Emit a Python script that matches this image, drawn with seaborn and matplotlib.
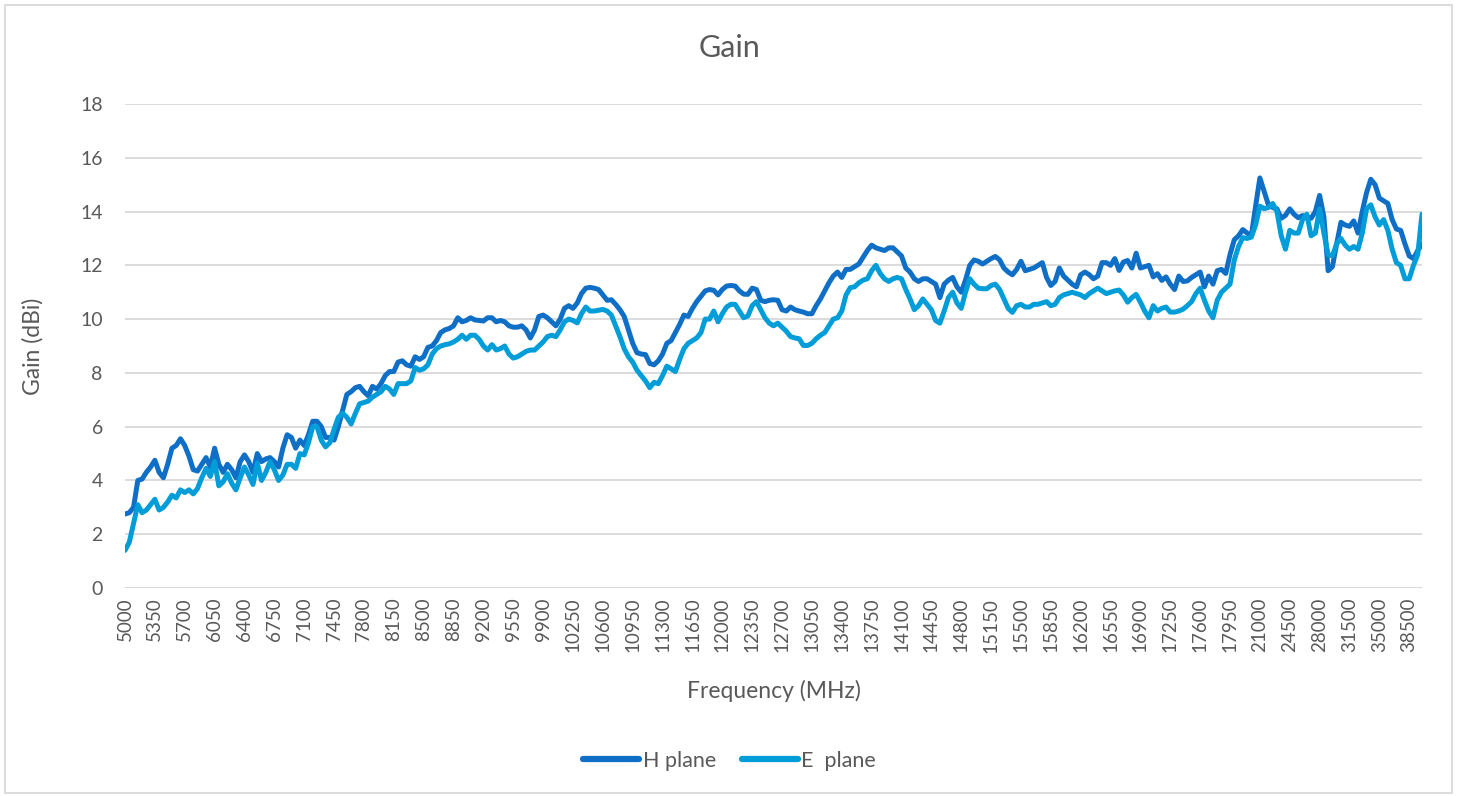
import matplotlib
matplotlib.use("Agg")
import matplotlib.pyplot as plt
import pandas as pd
import seaborn as sns
from matplotlib.patches import Rectangle

# frequency categories (MHz) - excel category axis, not evenly spaced
freqs = list(range(5000, 18000, 50)) + list(range(18000, 21000, 500)) + list(range(21000, 40001, 500))

h_plane = [
    2.75, 2.8, 3.0, 4.0, 4.05, 4.3, 4.5, 4.75, 4.3, 4.1,
    4.6, 5.2, 5.3, 5.55, 5.3, 4.9, 4.4, 4.35, 4.6, 4.85,
    4.5, 5.2, 4.6, 4.3, 4.6, 4.4, 4.1, 4.7, 4.95, 4.7,
    4.3, 5.0, 4.7, 4.8,
    4.85, 4.7, 4.5, 5.2, 5.7, 5.6, 5.2, 5.5, 5.3, 5.7,
    6.2, 6.2, 6.0, 5.6, 5.6, 5.5, 6.0, 6.6, 7.2, 7.3,
    7.45, 7.5, 7.3, 7.15, 7.5, 7.4, 7.6, 7.9, 8.05, 8.05,
    8.4, 8.45, 8.3, 8.25, 8.6,
    8.5, 8.6, 8.95, 9.0, 9.2, 9.5, 9.6, 9.65, 9.75,
    10.05, 9.9, 9.95, 10.05, 9.97, 9.95, 9.93, 10.05, 10.05, 9.9,
    9.95, 9.9, 9.75, 9.7, 9.7, 9.75, 9.6, 9.3, 9.6, 10.1,
    10.15, 10.05, 9.9, 9.75, 10.0,
    10.4, 10.5, 10.4, 10.6, 10.95, 11.15, 11.18, 11.15, 11.1, 10.9,
    10.7, 10.72, 10.55, 10.35, 10.1, 9.6, 9.1, 8.75, 8.7, 8.68,
    8.35, 8.3, 8.45, 8.7, 9.1, 9.2, 9.5, 9.8, 10.15, 10.1,
    10.4, 10.65, 10.85, 11.05,
    11.1, 11.07, 10.9, 11.1, 11.23, 11.25, 11.23, 11.05, 10.93, 10.92,
    11.15, 11.1, 10.7, 10.65, 10.7, 10.72, 10.7, 10.35, 10.3, 10.45,
    10.35, 10.3, 10.26, 10.2, 10.2, 10.5, 10.75, 11.05, 11.35,
    11.6, 11.75, 11.55, 11.85,
    11.85, 11.95, 12.05, 12.3, 12.55, 12.75, 12.65, 12.6, 12.55, 12.65,
    12.65, 12.5, 12.35, 11.9, 11.75, 11.5, 11.4, 11.5, 11.5, 11.4,
    11.3, 10.8, 11.3, 11.45, 11.55, 11.2, 11.0, 11.45, 12.0, 12.2,
    12.15, 12.05, 12.15, 12.25, 12.33,
    12.2, 11.9, 11.75, 11.65, 11.85, 12.15, 11.8, 11.85, 11.9, 12.0,
    12.1, 11.55, 11.25, 11.4, 11.9, 11.6, 11.45, 11.3, 11.2, 11.65,
    11.75, 11.65, 11.5, 11.6, 12.1, 12.1, 12.0, 12.25, 11.81, 12.12,
    12.18, 11.9, 12.45, 11.9,
    11.95, 12.0, 11.57, 11.69, 11.44, 11.57, 11.3, 11.1, 11.6, 11.4,
    11.42, 11.55, 11.65, 11.75, 11.2, 11.6, 11.3, 11.8, 11.85, 11.7,
    12.4, 12.95, 13.1, 13.33, 13.2, 13.1, 14.2, 15.25, 14.75, 14.25,
    14.15, 14.1, 13.75, 13.86,
    14.1, 13.9, 13.77, 13.85, 13.8, 13.75, 14.0, 14.6, 13.8, 11.8,
    11.95, 12.8, 13.6, 13.5, 13.45, 13.65, 13.2, 14.0, 14.7, 15.2,
    15.0, 14.5, 14.4, 14.3, 13.7, 13.35, 13.3, 12.8, 12.35, 12.25,
    12.55, 12.8,
]

e_plane = [
    1.4, 1.7, 2.4, 3.1, 2.8, 2.9, 3.1, 3.3, 2.9, 3.0,
    3.2, 3.45, 3.35, 3.65, 3.55, 3.65, 3.5, 3.7, 4.1, 4.45,
    4.15, 4.7, 3.8, 3.95, 4.25, 3.9, 3.65, 4.1, 4.5, 4.2,
    3.85, 4.65, 4.0, 4.3,
    4.7, 4.4, 4.0, 4.2, 4.6, 4.6, 4.45, 5.0, 4.95, 5.4,
    6.0, 6.0, 5.5, 5.25, 5.4, 5.9, 6.35, 6.5, 6.35, 6.1,
    6.5, 6.85, 6.9, 6.95, 7.1, 7.2, 7.3, 7.5, 7.4, 7.2,
    7.6, 7.6, 7.6, 7.7, 8.2,
    8.1, 8.15, 8.3, 8.7, 8.9, 9.0, 9.05, 9.08, 9.15,
    9.25, 9.4, 9.25, 9.4, 9.4, 9.25, 9.0, 8.85, 9.05, 8.85,
    8.9, 9.0, 8.7, 8.55, 8.6, 8.7, 8.8, 8.85, 8.85, 9.0,
    9.15, 9.35, 9.4, 9.35, 9.6,
    9.9, 10.0, 9.95, 9.86, 10.2, 10.45, 10.3, 10.3, 10.33, 10.36,
    10.3, 10.15, 9.75, 9.35, 8.9, 8.6, 8.4, 8.1, 7.9, 7.7,
    7.45, 7.65, 7.6, 7.9, 8.25, 8.15, 8.05, 8.5, 8.9, 9.1,
    9.2, 9.3, 9.5, 10.0,
    10.0, 10.3, 9.9, 10.2, 10.45, 10.55, 10.55, 10.3, 10.05, 10.12,
    10.5, 10.65, 10.35, 10.05, 9.85, 9.75, 9.85, 9.7, 9.55, 9.35,
    9.3, 9.27, 9.02, 9.02, 9.1, 9.27, 9.4, 9.5, 9.75,
    10.0, 10.05, 10.3, 10.9,
    11.17, 11.2, 11.35, 11.45, 11.5, 11.8, 12.0, 11.7, 11.5, 11.4,
    11.5, 11.55, 11.5, 11.1, 10.75, 10.35, 10.5, 10.75, 10.55, 10.35,
    9.95, 9.85, 10.3, 10.8, 11.0, 10.6, 10.4, 11.0, 11.5, 11.3,
    11.15, 11.13, 11.13, 11.25, 11.3,
    11.1, 10.75, 10.4, 10.25, 10.5, 10.55, 10.45, 10.45, 10.55, 10.55,
    10.6, 10.65, 10.5, 10.55, 10.8, 10.9, 10.95, 11.0, 10.95, 10.9,
    10.8, 10.95, 11.05, 11.15, 11.05, 10.95, 11.0, 11.05, 11.08, 10.9,
    10.63, 10.8, 10.92, 10.63,
    10.3, 10.05, 10.5, 10.3, 10.4, 10.45, 10.26, 10.26, 10.3, 10.37,
    10.5, 10.65, 10.95, 11.15, 10.7, 10.3, 10.05, 10.7, 11.0, 11.15,
    11.3, 12.2, 12.7, 13.03, 13.0, 13.05, 13.5, 14.2, 14.11, 14.15,
    14.3, 14.0, 13.1, 12.6,
    13.3, 13.2, 13.2, 13.7, 13.9, 13.1, 13.2, 14.1, 13.2, 12.4,
    12.35, 12.8, 13.0, 12.75, 12.6, 12.7, 12.6, 13.2, 14.1, 14.25,
    13.8, 13.5, 13.7, 13.3, 12.6, 12.1, 12.0, 11.5, 11.5, 12.0,
    12.4, 13.9,
]

series_names = ["H plane", "E  plane"]
colors = ["#0F6FC6", "#009DD9"]

n = min(len(freqs), len(h_plane), len(e_plane))
df = pd.DataFrame({
    "idx": list(range(n)) * 2,
    "gain": h_plane[:n] + e_plane[:n],
    "series": [series_names[0]] * n + [series_names[1]] * n,
})

sns.set_style("white")
plt.rcParams["font.family"] = ["Lato", "DejaVu Sans"]
grey = "#595959"

fig = plt.figure(figsize=(14.59, 7.96), dpi=100)
ax = fig.add_axes([125 / 1459, 1 - 588 / 796, (1422 - 125) / 1459, (588 - 104) / 796])

sns.lineplot(data=df, x="idx", y="gain", hue="series", palette=colors,
             linewidth=3.6, ax=ax, legend=False)

ax.set_xlim(0, n - 1)
ax.set_ylim(0, 18)
ax.set_yticks(range(0, 19, 2))
ax.yaxis.grid(True, color="#d9d9d9", linewidth=1.3)
ax.set_axisbelow(True)
for s in ax.spines.values():
    s.set_visible(False)
ax.axhline(0, color="#d9d9d9", linewidth=1.3, zorder=0)

ticks = list(range(0, n, 7))
ax.set_xticks(ticks)
ax.set_xticklabels([str(freqs[i]) for i in ticks], rotation=90)
ax.tick_params(axis="x", length=0, pad=7, labelsize=13.5, labelcolor=grey)
ax.tick_params(axis="y", length=0, pad=16, labelsize=14, labelcolor=grey)

ax.set_xlabel("Frequency (MHz)", fontsize=16.5, color=grey, labelpad=20)
ax.set_ylabel("Gain (dBi)", fontsize=16.5, color=grey, labelpad=26)
fig.text(0.5, 1 - 48 / 796, "Gain", ha="center", va="center", fontsize=22, color=grey)

handles = [plt.Line2D([0], [0], color=c, linewidth=4.5) for c in colors]
fig.legend(handles, series_names, loc="center", bbox_to_anchor=(0.5, 1 - 761 / 796),
           ncol=2, frameon=False, fontsize=15.5, handlelength=2.6, handletextpad=0.15,
           columnspacing=1.2, labelcolor=grey)

fig.patches.append(Rectangle((5 / 1459, 3 / 796), 1447 / 1459, 788 / 796, transform=fig.transFigure,
                             fill=False, edgecolor="#d9d9d9", linewidth=1.3))

fig.savefig("out.png", dpi=100)
